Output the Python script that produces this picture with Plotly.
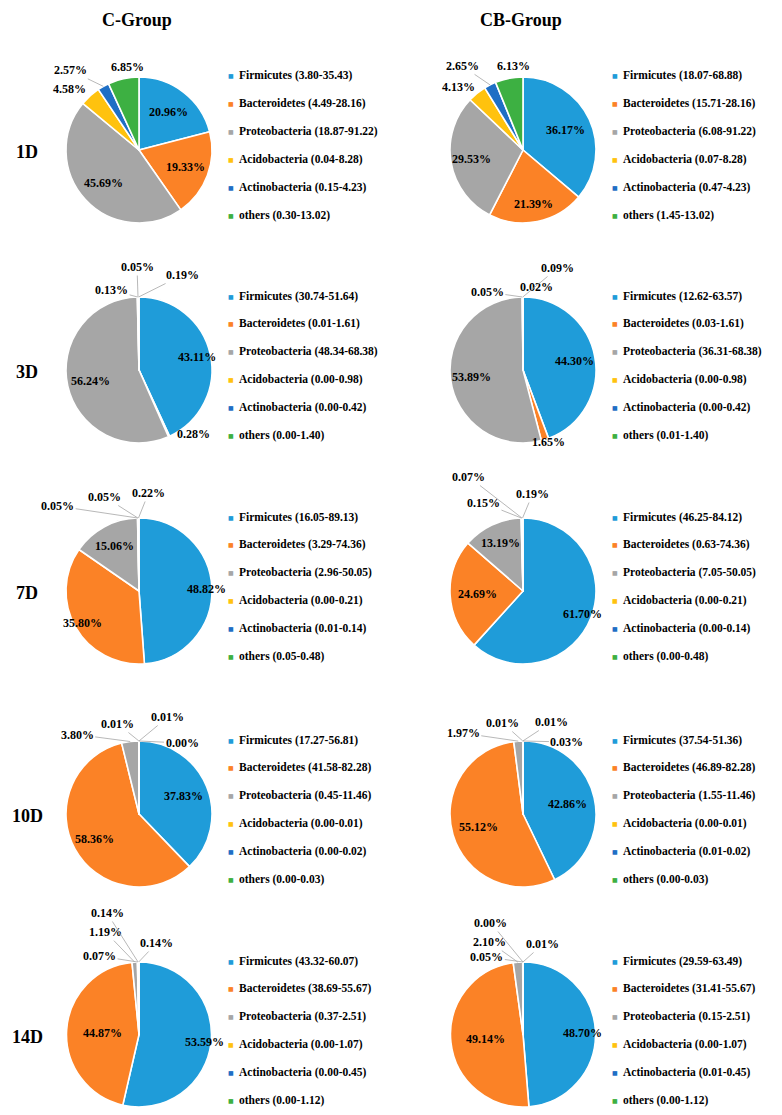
import math
import plotly.graph_objects as go

# ---------------- data ----------------
groups = ["C-Group", "CB-Group"]
days = ["1D", "3D", "7D", "10D", "14D"]
phyla = ["Firmicutes", "Bacteroidetes", "Proteobacteria", "Acidobacteria", "Actinobacteria", "others"]

# relative abundance (%) per pie, order = phyla
c_values = [
    [20.96, 19.33, 45.69, 4.58, 2.57, 6.85],
    [43.11, 0.28, 56.24, 0.13, 0.05, 0.19],
    [48.82, 35.80, 15.06, 0.05, 0.05, 0.22],
    [37.83, 58.36, 3.80, 0.01, 0.01, 0.00],
    [53.59, 44.87, 1.19, 0.07, 0.14, 0.14],
]
cb_values = [
    [36.17, 21.39, 29.53, 4.13, 2.65, 6.13],
    [44.30, 1.65, 53.89, 0.05, 0.02, 0.09],
    [61.70, 24.69, 13.19, 0.15, 0.07, 0.19],
    [42.86, 55.12, 1.97, 0.01, 0.01, 0.03],
    [48.70, 49.14, 2.10, 0.05, 0.00, 0.01],
]

# legend ranges (min-max) per pie
c_ranges = [
    ["3.80-35.43", "4.49-28.16", "18.87-91.22", "0.04-8.28", "0.15-4.23", "0.30-13.02"],
    ["30.74-51.64", "0.01-1.61", "48.34-68.38", "0.00-0.98", "0.00-0.42", "0.00-1.40"],
    ["16.05-89.13", "3.29-74.36", "2.96-50.05", "0.00-0.21", "0.01-0.14", "0.05-0.48"],
    ["17.27-56.81", "41.58-82.28", "0.45-11.46", "0.00-0.01", "0.00-0.02", "0.00-0.03"],
    ["43.32-60.07", "38.69-55.67", "0.37-2.51", "0.00-1.07", "0.00-0.45", "0.00-1.12"],
]
cb_ranges = [
    ["18.07-68.88", "15.71-28.16", "6.08-91.22", "0.07-8.28", "0.47-4.23", "1.45-13.02"],
    ["12.62-63.57", "0.03-1.61", "36.31-68.38", "0.00-0.98", "0.00-0.42", "0.01-1.40"],
    ["46.25-84.12", "0.63-74.36", "7.05-50.05", "0.00-0.21", "0.00-0.14", "0.00-0.48"],
    ["37.54-51.36", "46.89-82.28", "1.55-11.46", "0.00-0.01", "0.01-0.02", "0.00-0.03"],
    ["29.59-63.49", "31.41-55.67", "0.15-2.51", "0.00-1.07", "0.01-0.45", "0.00-1.12"],
]

# ---------------- style / layout ----------------
colors = ["#1F9CD9", "#FB8226", "#A6A6A6", "#FFC20E", "#1F6FC5", "#3DB042"]
PAGE_MARGIN = 8           # browser body margin
W, H = 782 - 2 * PAGE_MARGIN, 1115 - 2 * PAGE_MARGIN
R = 73
col_cx = [139, 523]
row_cy = [150, 370, 591, 814, 1035]
FONT = "Liberation Serif, Times New Roman, serif"

# inside-label radius fraction per slice (None = labelled outside)
c_inside = [
    [0.65, 0.68, 0.67, None, None, None],
    [0.81, None, 0.68, None, None, None],
    [0.92, 0.89, 0.70, None, None, None],
    [0.65, 0.70, None, None, None, None],
    [0.90, 0.50, None, None, None, None],
]
cb_inside = [
    [0.64, 0.76, 0.71, None, None, None],
    [0.71, None, 0.71, None, None, None],
    [0.87, 0.62, 0.73, None, None, None],
    [0.63, 0.64, None, None, None, None],
    [0.82, 0.51, None, None, None, None],
]
# outside labels: slice index -> (dx, dy from slice edge point in px, leader line?)
c_outside = [
    {3: (-20, -7, False), 4: (-33, -16, True), 5: (4, -12, False)},
    {1: (24, -3, False), 3: (-26, -7, True), 4: (-1, -30, True), 5: (44, -22, True)},
    {3: (-80, -12, True), 4: (-33, -21, True), 5: (10, -25, True)},
    {2: (-53, -7, True), 3: (-21, -17, True), 4: (29, -24, True), 5: (43, 2, True)},
    {2: (-29, -30, True), 3: (-38, -6, True), 4: (-31, -49, True), 5: (18, -19, True)},
]
cb_outside = [
    {3: (-19, -6, False), 4: (-28, -19, True), 5: (4, -12, False)},
    {1: (3, 2, False), 3: (-35, -5, True), 4: (14, -10, False), 5: (35, -29, True)},
    {3: (-38, -15, True), 4: (-53, -41, True), 5: (10, -24, True)},
    {2: (-55, -8, True), 3: (-20, -18, True), 4: (29, -19, True), 5: (44, 1, True)},
    {2: (-28, -20, True), 3: (-36, -5, True), 4: (-32, -39, True), 5: (20, -18, True)},
]


def px(x, y):
    return (x - PAGE_MARGIN) / W, 1 - (y - PAGE_MARGIN) / H


def clamp(v):
    return min(1.0, max(0.0, v))


fig = go.Figure()
annotations = []

all_values = [c_values, cb_values]
all_ranges = [c_ranges, cb_ranges]
all_inside = [c_inside, cb_inside]
all_outside = [c_outside, cb_outside]

for g in range(2):
    cx = col_cx[g]
    for r in range(5):
        cy = row_cy[r]
        vals = all_values[g][r]
        x0, y1 = px(cx - R, cy - R)
        x1, y0 = px(cx + R, cy + R)
        fig.add_trace(go.Pie(
            values=vals, labels=phyla, sort=False, direction="clockwise", rotation=0,
            marker=dict(colors=colors, line=dict(color="white", width=1.6)),
            textinfo="none", hoverinfo="label+value", showlegend=False,
            domain=dict(x=[clamp(x0), clamp(x1)], y=[clamp(y0), clamp(y1)]),
        ))
        total = sum(vals)
        cum = 0.0
        for i, v in enumerate(vals):
            mid = (cum + v / 2) / total * 2 * math.pi
            cum += v
            sx, sy = math.sin(mid), -math.cos(mid)
            txt = f"<b>{v:.2f}%</b>"
            f = all_inside[g][r][i]
            if f is not None:
                x, y = px(cx + f * R * sx, cy + f * R * sy)
                annotations.append(dict(x=x, y=y, xref="paper", yref="paper", text=txt,
                                        showarrow=False, font=dict(family=FONT, size=12, color="black"),
                                        xanchor="center", yanchor="middle"))
            elif i in all_outside[g][r]:
                dx, dy, line = all_outside[g][r][i]
                ex, ey = cx + R * sx, cy + R * sy
                if line:
                    x, y = px(ex, ey)
                    annotations.append(dict(x=x, y=y, xref="paper", yref="paper", text=txt,
                                            showarrow=True, ax=dx, ay=dy, arrowhead=0, arrowwidth=0.8,
                                            arrowcolor="#A6A6A6", standoff=0, startstandoff=0,
                                            font=dict(family=FONT, size=12, color="black")))
                else:
                    x, y = px(ex + dx, ey + dy)
                    annotations.append(dict(x=x, y=y, xref="paper", yref="paper", text=txt,
                                            showarrow=False, font=dict(family=FONT, size=12, color="black"),
                                            xanchor="center", yanchor="middle"))
        # legend
        lx = cx + 92
        for i, name in enumerate(phyla):
            ly = cy - 74 + i * 27.8
            x, y = px(lx, ly)
            annotations.append(dict(x=x, y=y, xref="paper", yref="paper", text="■",
                                    showarrow=False, font=dict(family="DejaVu Sans", size=6, color=colors[i]),
                                    xanchor="center", yanchor="middle"))
            x, y = px(lx + 6, ly)
            annotations.append(dict(x=x, y=y, xref="paper", yref="paper",
                                    text=f"<b>{name} ({all_ranges[g][r][i]})</b>",
                                    showarrow=False, font=dict(family=FONT, size=11.5, color="black"),
                                    xanchor="left", yanchor="middle"))

# group titles
for g in range(2):
    x, y = px(col_cx[g] - 2, 20)
    annotations.append(dict(x=x, y=y, xref="paper", yref="paper", text=f"<b>{groups[g]}</b>",
                            showarrow=False, font=dict(family=FONT, size=18, color="black"),
                            xanchor="center", yanchor="middle"))
# row labels
for r in range(5):
    x, y = px(27, row_cy[r] + 2)
    annotations.append(dict(x=x, y=y, xref="paper", yref="paper", text=f"<b>{days[r]}</b>",
                            showarrow=False, font=dict(family=FONT, size=18, color="black"),
                            xanchor="center", yanchor="middle"))

fig.update_layout(width=W, height=H, margin=dict(l=0, r=0, t=0, b=0),
                  paper_bgcolor="white", plot_bgcolor="white", annotations=annotations)
fig.write_html("out.html")
